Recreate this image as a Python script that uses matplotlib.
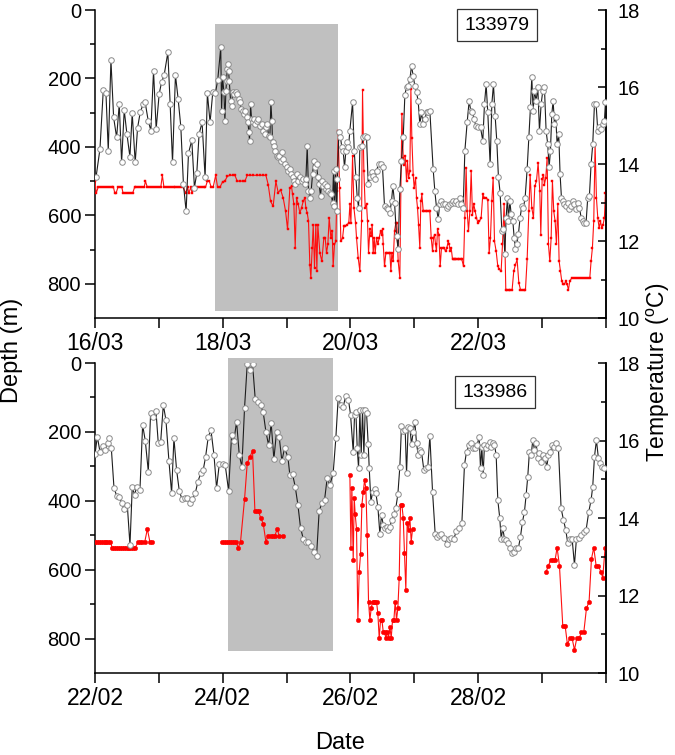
# Depth (red) and temperature (black) time series for two tags, two stacked panels.
import matplotlib
matplotlib.use("Agg")
import matplotlib.pyplot as plt
import numpy as np
from matplotlib.patches import Rectangle

plt.rcParams['font.family'] = ['Liberation Sans', 'DejaVu Sans']
plt.rcParams['mathtext.fontset'] = 'custom'
plt.rcParams['mathtext.rm'] = 'Liberation Sans'

# ---- tag 133979 (16/03 - 24/03), x = days since 16/03 ----
top_label = '133979'
top_dates = ['16/03', '', '18/03', '', '20/03', '', '22/03', '', '']
top_shade = (1.883, 3.80, 41, 880)   # day0, day1, depth0, depth1

top_temp = [
    (0.016, 13.65), (0.078, 14.39), (0.130, 15.92), (0.172, 15.84), (0.208, 14.35), (0.250, 16.70),
    (0.292, 15.21), (0.339, 14.69), (0.380, 15.56), (0.417, 14.04), (0.458, 15.40), (0.500, 14.78),
    (0.547, 14.19), (0.583, 15.32), (0.630, 14.04), (0.667, 14.94), (0.708, 15.34), (0.755, 15.56),
    (0.786, 15.60), (0.833, 15.13), (0.875, 14.87), (0.917, 16.42), (0.958, 14.91), (1.005, 15.82),
    (1.042, 16.12), (1.083, 16.31), (1.141, 16.90), (1.177, 15.56), (1.214, 14.04), (1.260, 16.31),
    (1.302, 15.69), (1.344, 14.97), (1.385, 13.48), (1.427, 12.77), (1.464, 14.28), (1.516, 14.62),
    (1.557, 13.39), (1.594, 13.76), (1.630, 14.78), (1.677, 15.08), (1.724, 13.65), (1.760, 15.84),
    (1.802, 15.08), (1.844, 15.86), (1.885, 15.84), (1.922, 16.18), (1.969, 17.03),
    (1.982, 15.38), (1.998, 16.25), (2.019, 15.86), (2.034, 15.12), (2.050, 15.90), (2.060, 16.16),
    (2.071, 16.46), (2.081, 16.59), (2.092, 16.42), (2.102, 16.16), (2.123, 15.64), (2.139, 15.51),
    (2.154, 15.86), (2.175, 15.81), (2.201, 15.86), (2.227, 15.81), (2.253, 15.68), (2.269, 15.60),
    (2.290, 15.42), (2.311, 15.38), (2.332, 15.29), (2.352, 15.38), (2.373, 15.21), (2.394, 15.08),
    (2.410, 14.82), (2.420, 14.60), (2.436, 15.55), (2.452, 15.16), (2.467, 15.08), (2.488, 15.16),
    (2.509, 15.03), (2.530, 15.12), (2.556, 15.16), (2.582, 14.99), (2.608, 15.03), (2.634, 14.86),
    (2.655, 14.77), (2.676, 14.95), (2.697, 15.03), (2.718, 14.73), (2.738, 14.69), (2.754, 15.60),
    (2.770, 15.12), (2.780, 14.56), (2.801, 14.47), (2.822, 14.34), (2.843, 14.21), (2.864, 14.17),
    (2.884, 14.21), (2.905, 14.08), (2.926, 14.30), (2.947, 14.12), (2.973, 13.99), (2.999, 13.91),
    (3.025, 13.82), (3.051, 13.86), (3.072, 13.73), (3.093, 13.65), (3.114, 13.56), (3.135, 13.47),
    (3.156, 13.73), (3.182, 13.56), (3.208, 13.65), (3.234, 13.56), (3.260, 13.60), (3.286, 13.47),
    (3.302, 13.60), (3.323, 14.47), (3.343, 13.30), (3.364, 13.13), (3.385, 13.30), (3.406, 13.73),
    (3.427, 14.08), (3.448, 13.91), (3.469, 13.99), (3.489, 13.65), (3.510, 13.47), (3.531, 13.17),
    (3.552, 13.56), (3.573, 13.43), (3.594, 13.47), (3.615, 13.34), (3.636, 13.43), (3.656, 13.30),
    (3.677, 13.26), (3.698, 13.22), (3.719, 13.00), (3.735, 13.82), (3.750, 12.91), (3.766, 13.86),
    (3.782, 12.78), (3.797, 13.60), (3.818, 14.82), (3.844, 14.69), (3.865, 14.43), (3.886, 14.34),
    (3.907, 13.91), (3.928, 14.34), (3.948, 14.56), (3.969, 14.43), (3.990, 14.86),
    (4.033, 15.60), (4.059, 14.34), (4.085, 13.65), (4.106, 13.13), (4.127, 12.87), (4.147, 14.43),
    (4.179, 14.47), (4.200, 14.69), (4.226, 14.73), (4.252, 14.69), (4.278, 13.47), (4.304, 13.65),
    (4.330, 13.78), (4.356, 13.69), (4.382, 13.60), (4.408, 13.82), (4.440, 14.01), (4.471, 13.99),
    (4.502, 13.91), (4.533, 12.91), (4.565, 12.87), (4.591, 12.83), (4.617, 12.74), (4.643, 13.04),
    (4.664, 13.43), (4.690, 13.00), (4.721, 12.13), (4.747, 11.79), (4.773, 13.34), (4.799, 14.08),
    (4.826, 14.69), (4.852, 15.80), (4.878, 16.00), (4.904, 16.03), (4.930, 16.20), (4.956, 16.55),
    (4.982, 16.29), (5.008, 16.03), (5.034, 15.86), (5.060, 15.64), (5.086, 15.03), (5.112, 15.34),
    (5.139, 15.03), (5.165, 15.16), (5.191, 15.34), (5.217, 15.34), (5.243, 15.38), (5.295, 13.86),
    (5.321, 13.30), (5.347, 12.87), (5.373, 12.57), (5.399, 12.96), (5.425, 13.04), (5.452, 12.96),
    (5.478, 12.96), (5.504, 12.87), (5.530, 12.91), (5.556, 12.96), (5.582, 13.00), (5.608, 13.04),
    (5.634, 13.00), (5.660, 13.04), (5.686, 12.96), (5.712, 13.13), (5.738, 12.96), (5.765, 12.87),
    (5.791, 14.34), (5.827, 15.08), (5.858, 15.64), (5.884, 15.38), (5.910, 15.34), (5.937, 15.16),
    (5.963, 14.99), (5.989, 14.95),
    (6.036, 14.95), (6.072, 14.60), (6.098, 15.55), (6.124, 16.07), (6.150, 15.34), (6.187, 13.99),
    (6.213, 15.55), (6.239, 16.07), (6.265, 15.25), (6.291, 14.60), (6.317, 13.65), (6.343, 13.26),
    (6.370, 12.26), (6.396, 12.31), (6.417, 11.66), (6.437, 12.61), (6.458, 13.13), (6.474, 12.52),
    (6.495, 13.04), (6.516, 12.70), (6.542, 12.52), (6.563, 12.09), (6.583, 11.79), (6.604, 11.92),
    (6.630, 12.18), (6.656, 12.61), (6.683, 12.91), (6.709, 12.87), (6.735, 13.13), (6.766, 13.86),
    (6.792, 14.69), (6.818, 15.47), (6.839, 16.25), (6.860, 15.38), (6.881, 15.90), (6.907, 15.64),
    (6.933, 15.99), (6.959, 14.86), (6.985, 15.55), (7.011, 15.90), (7.037, 15.99), (7.063, 14.86),
    (7.089, 14.51), (7.110, 13.91), (7.131, 14.34), (7.152, 15.29), (7.173, 15.64), (7.194, 15.03),
    (7.215, 15.21), (7.235, 14.51), (7.261, 14.77), (7.282, 13.73), (7.303, 13.13), (7.329, 13.04),
    (7.350, 12.96), (7.376, 12.91), (7.402, 13.00), (7.428, 12.83), (7.454, 12.91), (7.481, 13.04),
    (7.507, 12.96), (7.533, 12.83), (7.559, 13.00), (7.585, 12.87), (7.611, 12.61), (7.637, 12.52),
    (7.663, 12.48), (7.689, 12.48), (7.715, 13.13), (7.741, 13.17), (7.767, 13.99), (7.793, 14.51),
    (7.820, 15.55), (7.846, 15.55), (7.872, 14.86), (7.898, 14.95), (7.924, 14.90), (7.950, 15.03),
    (7.976, 15.12), (7.992, 15.60),
]

top_depth = [
    (0.00, 500), (0.02, 535), (0.05, 518), (0.08, 518), (0.11, 518), (0.14, 518), (0.17, 518),
    (0.20, 518), (0.23, 518), (0.26, 518), (0.29, 518), (0.31, 535), (0.33, 535), (0.36, 518),
    (0.39, 518), (0.42, 518), (0.44, 535), (0.47, 535), (0.50, 535), (0.53, 535), (0.56, 535),
    (0.59, 535), (0.62, 518), (0.65, 518), (0.68, 518), (0.71, 518), (0.74, 518), (0.77, 518),
    (0.79, 500), (0.82, 518), (0.85, 518), (0.88, 518), (0.91, 518), (0.94, 518), (0.97, 518),
    (1.00, 518), (1.03, 518), (1.055, 483), (1.08, 518), (1.11, 518), (1.14, 518), (1.17, 518),
    (1.20, 518), (1.23, 518), (1.26, 518), (1.29, 518), (1.32, 518), (1.35, 518), (1.38, 518),
    (1.42, 535), (1.45, 518), (1.47, 535), (1.50, 518), (1.52, 535), (1.55, 518), (1.58, 518),
    (1.61, 518), (1.64, 518), (1.67, 518), (1.70, 518), (1.73, 518), (1.76, 500), (1.79, 500),
    (1.82, 518), (1.85, 518), (1.89, 483), (1.92, 518),
    (1.956, 518), (1.998, 502), (2.034, 500), (2.071, 486), (2.113, 483), (2.154, 483), (2.191, 483),
    (2.227, 500), (2.269, 500), (2.311, 500), (2.347, 500), (2.384, 483), (2.425, 483), (2.478, 483),
    (2.530, 483), (2.582, 483), (2.634, 483), (2.676, 483), (2.712, 510), (2.749, 559), (2.790, 573),
    (2.832, 500), (2.869, 534), (2.905, 525), (2.947, 549), (2.984, 588), (3.015, 641), (3.051, 520),
    (3.077, 515), (3.093, 539), (3.114, 568), (3.135, 695), (3.156, 549), (3.182, 568), (3.208, 593),
    (3.234, 578), (3.260, 559), (3.286, 549), (3.302, 578), (3.323, 593), (3.343, 617), (3.364, 744),
    (3.380, 783), (3.401, 695), (3.417, 627), (3.437, 753), (3.458, 627), (3.474, 763), (3.489, 627),
    (3.521, 710), (3.552, 734), (3.583, 666), (3.604, 666), (3.625, 710), (3.646, 685), (3.667, 607),
    (3.693, 666), (3.714, 646), (3.729, 749), (3.750, 685), (3.771, 676), (3.787, 529), (3.808, 354),
    (3.829, 520), (3.850, 676), (3.876, 666), (3.897, 632), (3.922, 632), (3.949, 627), (3.974, 622),
    (3.991, 568), (4.007, 622), (4.033, 427), (4.054, 578), (4.080, 622),
    (4.095, 666), (4.121, 724), (4.147, 763), (4.174, 617), (4.189, 235), (4.210, 471), (4.231, 578),
    (4.252, 568), (4.267, 617), (4.283, 710), (4.304, 641), (4.325, 661), (4.340, 627), (4.356, 710),
    (4.372, 666), (4.387, 710), (4.408, 666), (4.429, 685), (4.450, 666), (4.471, 646), (4.487, 656),
    (4.502, 641), (4.513, 685), (4.533, 749), (4.554, 710), (4.575, 710), (4.596, 710), (4.617, 710),
    (4.633, 763), (4.648, 710), (4.669, 734), (4.690, 646), (4.711, 622), (4.726, 622), (4.747, 734),
    (4.773, 783), (4.789, 529), (4.805, 305), (4.826, 432), (4.841, 452), (4.857, 427), (4.878, 500),
    (4.893, 442), (4.909, 490), (4.930, 471), (4.946, 232), (4.961, 374), (4.982, 481), (4.998, 520),
    (5.019, 490), (5.034, 549), (5.050, 578), (5.066, 627), (5.086, 695), (5.102, 559), (5.118, 539),
    (5.139, 588), (5.159, 588), (5.180, 588), (5.201, 588), (5.222, 588), (5.243, 588), (5.264, 666),
    (5.285, 705), (5.300, 666), (5.316, 656), (5.332, 685), (5.347, 705), (5.363, 641), (5.384, 656),
    (5.405, 749), (5.425, 695), (5.446, 695), (5.467, 695), (5.488, 705), (5.509, 695), (5.530, 676),
    (5.545, 685), (5.561, 705), (5.577, 695), (5.598, 729), (5.618, 729), (5.639, 729), (5.660, 729),
    (5.681, 729), (5.702, 729), (5.723, 729), (5.744, 729), (5.770, 749), (5.791, 607), (5.811, 461),
    (5.827, 588), (5.848, 646), (5.869, 588), (5.890, 471), (5.910, 598), (5.931, 568), (5.952, 588),
    (5.973, 607), (5.994, 622),
    (6.020, 617), (6.046, 607), (6.072, 539), (6.098, 549), (6.124, 549), (6.150, 554), (6.171, 710),
    (6.192, 666), (6.213, 559), (6.234, 490), (6.255, 676), (6.281, 705), (6.307, 749), (6.333, 758),
    (6.359, 763), (6.380, 685), (6.406, 568), (6.432, 817), (6.453, 817), (6.479, 817), (6.505, 817),
    (6.531, 817), (6.557, 763), (6.583, 744), (6.609, 729), (6.636, 797), (6.662, 817), (6.688, 817),
    (6.714, 817), (6.740, 817), (6.766, 729), (6.792, 588), (6.813, 481), (6.839, 578), (6.865, 607),
    (6.886, 515), (6.912, 500), (6.938, 447), (6.964, 529), (6.980, 656), (7.001, 495), (7.022, 481),
    (7.037, 510), (7.058, 490), (7.079, 432), (7.100, 685), (7.121, 734), (7.142, 666), (7.162, 500),
    (7.183, 588), (7.204, 617), (7.225, 685), (7.246, 568), (7.267, 734), (7.288, 763), (7.308, 792),
    (7.329, 802), (7.350, 802), (7.371, 792), (7.392, 802), (7.413, 817), (7.434, 792), (7.465, 783),
    (7.496, 783), (7.527, 783), (7.559, 783), (7.590, 783), (7.621, 783), (7.653, 783), (7.684, 783),
    (7.715, 783), (7.747, 783), (7.767, 734), (7.788, 695), (7.809, 617), (7.830, 393), (7.851, 549),
    (7.872, 607), (7.893, 637), (7.914, 617), (7.934, 637), (7.955, 627), (7.976, 607), (7.992, 534),
]

# ---- tag 133986 (22/02 - 02/03), x = days since 22/02 ----
bot_label = '133986'
bot_dates = ['22/02', '', '24/02', '', '26/02', '', '28/02', '', '']
bot_shade = (2.086, 3.73, -15, 836)

bot_temp = [
    (0.000, 15.64), (0.037, 16.10), (0.078, 15.71), (0.120, 15.87), (0.162, 15.75), (0.198, 15.93),
    (0.219, 16.06), (0.256, 15.80), (0.298, 14.77), (0.339, 14.58), (0.381, 14.55), (0.418, 14.38),
    (0.459, 14.23), (0.506, 14.34), (0.548, 13.30), (0.584, 14.81), (0.621, 14.59), (0.652, 14.81),
    (0.704, 14.72), (0.746, 16.40), (0.788, 15.99), (0.835, 15.20), (0.871, 16.70), (0.913, 16.61),
    (0.955, 16.76), (0.991, 15.93), (1.028, 15.95), (1.070, 16.92), (1.111, 16.53), (1.158, 15.47),
    (1.200, 14.64), (1.236, 16.06), (1.278, 15.24), (1.320, 14.70), (1.362, 14.49), (1.403, 14.52),
    (1.440, 14.52), (1.482, 14.38), (1.523, 14.49), (1.570, 14.64), (1.612, 14.94), (1.654, 15.15),
    (1.695, 15.24), (1.732, 15.58), (1.774, 16.10), (1.816, 16.27), (1.863, 15.63), (1.904, 14.77),
    (1.946, 15.39), (1.998, 15.39),
    (2.039, 15.37), (2.092, 14.70), (2.139, 16.14), (2.175, 15.99), (2.217, 16.49), (2.259, 15.63),
    (2.300, 15.32), (2.342, 16.85), (2.384, 17.97), (2.425, 17.82), (2.467, 17.97), (2.509, 17.07),
    (2.551, 17.00), (2.592, 16.92), (2.634, 16.73), (2.676, 16.23), (2.718, 15.88), (2.759, 16.44),
    (2.801, 15.52), (2.843, 16.23), (2.884, 16.10), (2.926, 15.47), (2.968, 15.80), (3.020, 15.58),
    (3.051, 15.11), (3.093, 15.13), (3.135, 14.81), (3.177, 14.34), (3.218, 13.75), (3.260, 13.47),
    (3.302, 13.37), (3.343, 13.37), (3.385, 13.29), (3.427, 13.13), (3.469, 13.02), (3.510, 14.18),
    (3.552, 14.38), (3.594, 14.46), (3.636, 15.04), (3.677, 14.85), (3.729, 15.15), (3.771, 16.06),
    (3.808, 17.10), (3.850, 16.92), (3.886, 16.87), (3.928, 17.16), (3.969, 17.05), (4.001, 16.67),
    (4.043, 15.71), (4.064, 16.66), (4.085, 16.73), (4.106, 15.80), (4.127, 15.28), (4.147, 16.79),
    (4.168, 15.63), (4.189, 16.79), (4.210, 15.63), (4.231, 16.79), (4.252, 16.70), (4.278, 15.90),
    (4.294, 15.28), (4.320, 14.42), (4.346, 14.66), (4.377, 14.75), (4.398, 14.64), (4.429, 14.29),
    (4.460, 13.60), (4.487, 14.08), (4.513, 13.82), (4.539, 13.73), (4.565, 13.78), (4.591, 13.69),
    (4.617, 13.78), (4.648, 13.95), (4.680, 14.10), (4.711, 14.27), (4.742, 14.61), (4.773, 15.32),
    (4.799, 16.38), (4.826, 16.25), (4.857, 16.27), (4.878, 15.15), (4.904, 16.36), (4.930, 16.33),
    (4.956, 15.90), (4.982, 16.23), (5.008, 16.49), (5.034, 15.93), (5.060, 15.63), (5.086, 15.75),
    (5.112, 15.71), (5.149, 15.24), (5.180, 15.30), (5.211, 15.32), (5.243, 16.12), (5.285, 14.68),
    (5.326, 13.60), (5.358, 13.52), (5.389, 13.56), (5.420, 13.60), (5.462, 13.49), (5.504, 13.32),
    (5.535, 13.46), (5.577, 13.49), (5.618, 13.47), (5.660, 13.66), (5.702, 13.73), (5.744, 13.86),
    (5.785, 15.37), (5.817, 15.71), (5.858, 15.88), (5.890, 15.93), (5.921, 15.80), (5.952, 15.81),
    (5.983, 15.88), (6.015, 16.10), (6.036, 15.28),
    (6.057, 15.84), (6.077, 15.11), (6.098, 15.88), (6.124, 15.80), (6.150, 15.88), (6.177, 15.95),
    (6.203, 15.84), (6.229, 15.93), (6.255, 15.88), (6.281, 15.63), (6.307, 14.46), (6.338, 13.99),
    (6.359, 13.47), (6.385, 13.73), (6.411, 13.47), (6.443, 13.43), (6.474, 13.35), (6.505, 13.22),
    (6.536, 13.09), (6.568, 13.13), (6.599, 13.22), (6.630, 13.23), (6.662, 13.52), (6.693, 13.90),
    (6.724, 14.16), (6.750, 14.59), (6.776, 15.07), (6.802, 15.71), (6.829, 15.63), (6.855, 16.01),
    (6.881, 15.75), (6.907, 15.93), (6.933, 15.54), (6.959, 15.67), (6.985, 15.45), (7.016, 15.63),
    (7.048, 15.54), (7.074, 15.32), (7.100, 15.63), (7.131, 15.71), (7.162, 15.88), (7.194, 15.84),
    (7.225, 15.93), (7.256, 15.80), (7.298, 14.25), (7.335, 13.95), (7.371, 13.69), (7.402, 13.35),
    (7.434, 13.47), (7.470, 13.47), (7.507, 12.79), (7.538, 13.47), (7.574, 13.49), (7.611, 13.56),
    (7.653, 13.65), (7.689, 13.69), (7.731, 14.16), (7.767, 14.46), (7.793, 14.81), (7.820, 15.58),
    (7.851, 16.01), (7.882, 15.54), (7.913, 15.41), (7.945, 15.32), (7.976, 15.28),
]

# depth record has gaps, so it is kept as separate pieces
bot_depth_1 = [
    (0.00, 519), (0.03, 519), (0.06, 519), (0.09, 519), (0.12, 519), (0.15, 519), (0.18, 519),
    (0.21, 519), (0.24, 519), (0.27, 536), (0.30, 536), (0.33, 536), (0.36, 536), (0.39, 536),
    (0.42, 536), (0.45, 536), (0.48, 536), (0.51, 536), (0.54, 536), (0.57, 536), (0.60, 536),
    (0.63, 536), (0.68, 519), (0.71, 519), (0.74, 519), (0.78, 519), (0.82, 482), (0.86, 519),
    (0.89, 519),
]
bot_depth_2 = [
    (1.982, 519), (2.019, 519), (2.050, 519), (2.081, 519), (2.112, 519), (2.144, 519), (2.175, 519),
    (2.206, 519), (2.243, 536), (2.279, 519), (2.342, 395), (2.384, 291), (2.425, 272), (2.467, 256),
    (2.504, 430), (2.530, 430), (2.561, 430), (2.592, 449), (2.634, 466), (2.676, 519), (2.712, 501),
    (2.749, 501), (2.780, 501), (2.817, 501), (2.853, 482), (2.884, 501), (2.937, 501),
]
bot_depth_3 = [
    (3.991, 325), (4.007, 536), (4.022, 362), (4.043, 572), (4.059, 393), (4.074, 439), (4.095, 482),
    (4.116, 746), (4.137, 606), (4.158, 555), (4.179, 412), (4.200, 374), (4.221, 340), (4.241, 364),
    (4.262, 499), (4.283, 693), (4.304, 746), (4.325, 712), (4.346, 693), (4.367, 693), (4.387, 693),
    (4.408, 693), (4.429, 727), (4.450, 799), (4.471, 746), (4.492, 746), (4.513, 780), (4.533, 780),
    (4.554, 799), (4.575, 780), (4.596, 799), (4.617, 765), (4.638, 799), (4.659, 746), (4.680, 746),
    (4.700, 693), (4.721, 746), (4.742, 712), (4.763, 625), (4.784, 412), (4.805, 412), (4.826, 449),
    (4.846, 553), (4.867, 659), (4.888, 465), (4.909, 485), (4.930, 449), (4.951, 519), (4.972, 482),
]
bot_depth_4 = [
    (7.063, 606), (7.100, 588), (7.136, 572), (7.173, 572), (7.204, 572), (7.235, 536), (7.272, 588),
    (7.324, 763), (7.361, 763), (7.397, 817), (7.434, 799), (7.470, 799), (7.507, 833), (7.543, 799),
    (7.580, 799), (7.616, 782), (7.653, 782), (7.695, 712), (7.736, 693), (7.773, 569), (7.809, 536),
    (7.846, 588), (7.882, 588), (7.919, 606), (7.950, 623), (7.987, 536),
]

fig = plt.figure(figsize=(6.75, 7.55), dpi=100)


def panel(rect, temp, depth_parts, shade, label, label_pos, dates, rmark, rsize):
    ax = fig.add_axes(rect)
    ax2 = ax.twinx()

    d0, d1, z0, z1 = shade
    ax.add_patch(Rectangle((d0, z0), d1 - d0, z1 - z0, facecolor='#c0c0c0',
                           edgecolor='none', clip_on=False, zorder=0))

    for part in depth_parts:
        x, y = np.array(part).T
        ax.plot(x, y, color='#ff1010', lw=0.8, marker=rmark, ms=rsize,
                mfc='#ff0000', mec='#ff0000', mew=0.3, zorder=3)

    x, y = np.array(temp).T
    ax2.plot(x, y, color='#1e1e1e', lw=0.8, marker='o', ms=4.0, mfc='white',
             mec='#8a8a8a', mew=0.7, zorder=3)

    ax.set_xlim(0, 8)
    ax.set_ylim(900, 0)
    ax2.set_ylim(10, 18)

    ax.set_xticks(range(9))
    ax.set_xticklabels(dates)
    ax.set_yticks([0, 200, 400, 600, 800])
    ax.set_yticks(range(100, 900, 200), minor=True)
    ax2.set_yticks([10, 12, 14, 16, 18])
    ax2.set_yticks([11, 13, 15, 17], minor=True)

    ax.tick_params(axis='x', length=7, width=1.1, direction='out', labelsize=16.5, pad=3)
    ax.tick_params(axis='y', which='major', length=7, width=1.1, direction='out',
                   labelsize=14.5, pad=3)
    ax.tick_params(axis='y', which='minor', length=3.8, width=1.1, direction='out')
    ax2.tick_params(axis='y', which='major', length=6, width=1.1, direction='in',
                    labelsize=14.5, pad=8)
    ax2.tick_params(axis='y', which='minor', length=3.5, width=1.1, direction='in')

    for a in (ax, ax2):
        a.spines['top'].set_visible(False)
        for s in a.spines.values():
            s.set_linewidth(1.1)
    ax2.spines['left'].set_visible(False)
    ax2.spines['bottom'].set_visible(False)

    ax2.text(label_pos[0], label_pos[1], label, transform=ax.transAxes, fontsize=14,
             ha='center', va='center', zorder=5,
             bbox=dict(boxstyle='square,pad=0.38', facecolor='white',
                       edgecolor='#333333', linewidth=0.9))
    return ax, ax2


panel([0.1407, 0.5788, 0.7570, 0.4079], top_temp, [top_depth], top_shade,
      top_label, (0.787, 0.951), top_dates, 's', 1.7)
panel([0.1407, 0.1086, 0.7570, 0.4106], bot_temp,
      [bot_depth_1, bot_depth_2, bot_depth_3, bot_depth_4], bot_shade,
      bot_label, (0.783, 0.906), bot_dates, 'o', 3.2)

fig.text(0.018, 0.536, 'Depth (m)', rotation=90, ha='center', va='center', fontsize=17)
fig.text(0.976, 0.507, r'Temperature ($^{\rm o}$C)', rotation=90, ha='center',
         va='center', fontsize=16.5)
fig.text(0.504, 0.016, 'Date', ha='center', va='center', fontsize=17)

fig.savefig('out.png', dpi=100)
